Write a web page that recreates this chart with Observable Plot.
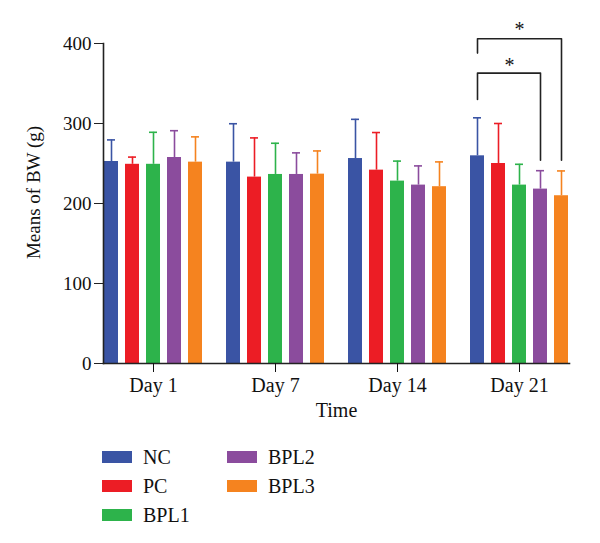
<!DOCTYPE html>
<html>
<head>
<meta charset="utf-8">
<script src="https://cdn.jsdelivr.net/npm/d3@7"></script>
<script src="https://cdn.jsdelivr.net/npm/@observablehq/plot@0.6"></script>
<style>
  body { margin: 0; background: #fff; font-family: "Liberation Serif", serif; }
  #chart { position: relative; width: 600px; height: 543px; }
  #chart svg { position: absolute; left: 0; top: 0; }
  .legend { position: absolute; left: 102px; top: 450px; display: grid;
            grid-template-columns: 125px 140px; grid-auto-flow: column;
            grid-template-rows: repeat(3, 29px); font-size: 20px; color: #111; }
  .item { display: flex; align-items: center; height: 14px; }
  .sw { width: 30px; height: 12px; margin-right: 11px; }
</style>
</head>
<body>
<div id="chart"></div>
<script>
// Body weight (g), mean and SD per group and time point
const days = ["Day 1", "Day 7", "Day 14", "Day 21"];
const groups = ["NC", "PC", "BPL1", "BPL2", "BPL3"];
const colors = ["#3a54a4", "#ec1d25", "#2db34b", "#8b4c9d", "#f5831f"];

const meanNC   = [252.5, 251.7, 256.2, 259.6];
const meanPC   = [249.0, 233.0, 241.7, 250.0];
const meanBPL1 = [249.0, 236.3, 228.0, 223.0];
const meanBPL2 = [257.5, 236.3, 223.0, 218.0];
const meanBPL3 = [251.7, 236.7, 221.0, 209.7];

const sdNC   = [27.0, 48.0, 49.0, 47.5];
const sdPC   = [9.0, 49.0, 47.0, 50.0];
const sdBPL1 = [40.0, 39.0, 25.0, 26.0];
const sdBPL2 = [33.5, 27.0, 24.0, 23.0];
const sdBPL3 = [31.6, 29.0, 31.0, 31.0];

const yTicks = [0, 100, 200, 300, 400];
const yTitle = "Means of BW (g)";
const xTitle = "Time";

// Significance brackets on Day 21: NC vs BPL2 (inner) and NC vs BPL3 (outer)
const sigDay = "Day 21";
const sigFrom = ["NC", "NC"];
const sigTo = ["BPL2", "BPL3"];
const sigFootLeft = [330, 388];
const sigTop = [363, 406];
const sigFootRight = [254, 254];
const sigStarY = [372, 418];

const means = [meanNC, meanPC, meanBPL1, meanBPL2, meanBPL3];
const sds = [sdNC, sdPC, sdBPL1, sdBPL2, sdBPL3];

const rows = [];
groups.forEach((g, gi) => days.forEach((d, di) => {
  rows.push({day: d, group: g, mean: means[gi][di], upper: means[gi][di] + sds[gi][di]});
}));

const bracketPts = [];
sigFrom.forEach((f, i) => {
  bracketPts.push({k: i, day: sigDay, x: f, y: sigFootLeft[i]});
  bracketPts.push({k: i, day: sigDay, x: f, y: sigTop[i]});
  bracketPts.push({k: i, day: sigDay, x: sigTo[i], y: sigTop[i]});
  bracketPts.push({k: i, day: sigDay, x: sigTo[i], y: sigFootRight[i]});
});
// inner star sits halfway between PC and BPL1, outer star above BPL1
const innerStar = [{day: sigDay, x: "PC", y: sigStarY[0]}];
const outerStar = [{day: sigDay, x: "BPL1", y: sigStarY[1]}];

const font = "Liberation Serif, serif";

const plot = Plot.plot({
  width: 600,
  height: 425,
  marginLeft: 94,
  marginRight: 21,
  marginTop: 43,
  marginBottom: 62,
  style: {fontFamily: font, color: "#111", background: "transparent"},
  fx: {domain: days, paddingInner: 0.177, paddingOuter: 0.064},
  x: {domain: groups, paddingInner: 0.33, paddingOuter: 0, axis: null},
  y: {domain: [0, 400]},
  color: {domain: groups, range: colors},
  marks: [
    Plot.barY(rows, {fx: "day", x: "group", y: "mean", fill: "group"}),
    Plot.ruleX(rows, {fx: "day", x: "group", y1: "mean", y2: "upper", stroke: "group", strokeWidth: 1.6}),
    Plot.tickY(rows, {fx: "day", x: "group", y: "upper", stroke: "group", strokeWidth: 1.6, insetLeft: 3, insetRight: 3}),
    Plot.line(bracketPts, {fx: "day", x: "x", y: "y", z: "k", stroke: "#222", strokeWidth: 1.6}),
    Plot.text(innerStar, {fx: "day", x: "x", y: "y", dx: 11, text: () => "*", fontSize: 20, fill: "#111"}),
    Plot.text(outerStar, {fx: "day", x: "x", y: "y", text: () => "*", fontSize: 20, fill: "#111"}),
    Plot.frame({anchor: "bottom", facet: "super", stroke: "#222", strokeWidth: 1.6}),
    Plot.frame({anchor: "left", facet: "super", stroke: "#222", strokeWidth: 1.6}),
    Plot.axisY({ticks: yTicks, tickSize: 9, tickPadding: 3, fontSize: 19, tickFormat: d => String(d),
      label: null, stroke: "#222"}),
    Plot.text([yTitle], {frameAnchor: "left", textAnchor: "middle", lineAnchor: "middle", rotate: -90,
      dx: -70, dy: -11, facet: "super", fontSize: 19, fill: "#111"}),
    Plot.axisFx({anchor: "bottom", tickSize: 9, tickPadding: 5, fontSize: 20,
      label: xTitle, labelAnchor: "center", labelOffset: 53})
  ]
});

const chart = document.getElementById("chart");
chart.appendChild(plot);

// Legend: two columns, filled top to bottom
const legend = document.createElement("div");
legend.className = "legend";
groups.forEach((g, i) => {
  const item = document.createElement("div");
  item.className = "item";
  item.style.gridRow = String((i < 3 ? i : i - 3) + 1);
  item.style.gridColumn = String(i < 3 ? 1 : 2);
  const sw = document.createElement("span");
  sw.className = "sw";
  sw.style.background = colors[i];
  const t = document.createElement("span");
  t.textContent = g;
  item.appendChild(sw);
  item.appendChild(t);
  legend.appendChild(item);
});
chart.appendChild(legend);
</script>
</body>
</html>
